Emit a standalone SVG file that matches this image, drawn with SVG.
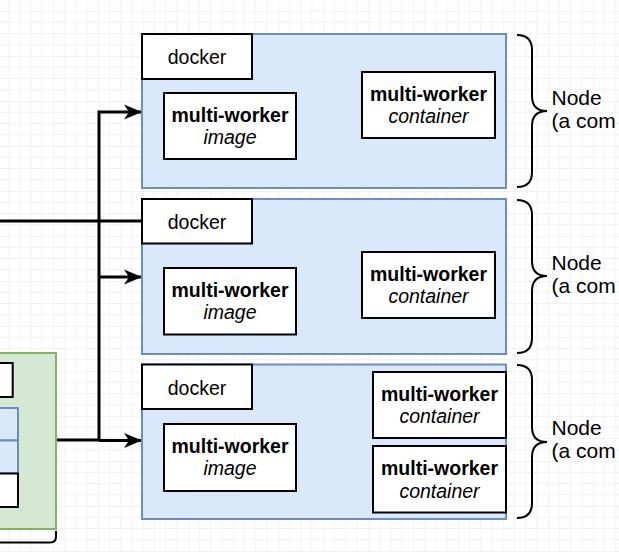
<svg xmlns="http://www.w3.org/2000/svg" width="619" height="552" viewBox="0 0 619 552">
  <defs>
    <pattern id="grid" patternUnits="userSpaceOnUse" x="8.3" y="11" width="45" height="45">
      <path d="M11.25,0 V45 M22.5,0 V45 M33.75,0 V45 M0,11.25 H45 M0,22.5 H45 M0,33.75 H45" stroke="#f1f1f1" stroke-width="1" fill="none"/>
      <path d="M0,0 V45 M0,0 H45" stroke="#e6e6e6" stroke-width="1" fill="none"/>
    </pattern>
    <marker id="arr" markerUnits="userSpaceOnUse" markerWidth="20" markerHeight="18" viewBox="-19 -9 20 18" refX="0" refY="0" orient="auto">
      <path d="M0,0 L-18,-7.5 L-13,0 L-18,7.5 Z" fill="#000"/>
    </marker>
  </defs>
  <style>
    .outer { fill: #dae8fc; stroke: #6c8ebf; stroke-width: 2; }
    .box { fill: #ffffff; stroke: #000000; stroke-width: 2; }
    .green { fill: #d5e8d4; stroke: #82b366; stroke-width: 2; }
    .bluebox { fill: #dae8fc; stroke: #6c8ebf; stroke-width: 2; }
    .t { font-family: "Liberation Sans", Arial, Helvetica, sans-serif; font-size: 19.5px; fill: #000; text-anchor: middle; }
    .b { font-weight: bold; }
    .i { font-style: italic; }
    .lbl { font-family: "Liberation Sans", Arial, Helvetica, sans-serif; font-size: 21px; fill: #000; }
    .brace { fill: none; stroke: #000; stroke-width: 2; }
    .conn { fill: none; stroke: #000; stroke-width: 3; }
  </style>
  <rect x="0" y="0" width="619" height="552" fill="#ffffff"/>
  <rect x="0" y="0" width="619" height="552" fill="url(#grid)"/>

  <!-- left green group (partially visible) -->
  <g id="left-group">
    <rect class="green" x="-10" y="353" width="66" height="176"/>
    <rect class="box" x="-10" y="363" width="22.7" height="34"/>
    <rect class="bluebox" x="-10" y="408" width="28" height="32.5"/>
    <rect class="bluebox" x="-10" y="440.5" width="28" height="33"/>
    <rect class="box" x="-10" y="473.5" width="28" height="33.5"/>
    <path class="brace" d="M-5,542.5 H50 Q56,542.5 56,536.5 V531"/>
  </g>

  <!-- connectors -->
  <g id="connectors">
    <path class="conn" d="M0,221 H142"/>
    <path class="conn" d="M57,440 H99 V112 H142" marker-end="url(#arr)"/>
    <path class="conn" d="M99,277 H142" marker-end="url(#arr)"/>
    <path class="conn" d="M99,440.5 H142" marker-end="url(#arr)"/>
  </g>

  <!-- Node 1 -->
  <g id="node1">
    <rect class="outer" x="142" y="34" width="364" height="154"/>
    <rect class="box" x="142" y="34" width="110" height="45"/>
    <text class="t" x="197" y="64">docker</text>
    <rect class="box" x="164" y="93" width="132" height="66"/>
    <text class="t b" x="230" y="121.5">multi-worker</text>
    <text class="t i" x="230" y="144">image</text>
    <rect class="box" x="362" y="72" width="133" height="66"/>
    <text class="t b" x="428.5" y="101">multi-worker</text>
    <text class="t i" x="428.5" y="122.7">container</text>
    <path class="brace" d="M517,35 Q532,35 532,50 L532,96 Q532,111 547,111 Q532,111 532,126 L532,172 Q532,187 517,187"/>
    <text class="lbl" x="551.5" y="104.5">Node</text>
    <text class="lbl" x="551.5" y="127.5">(a com</text>
  </g>

  <!-- Node 2 -->
  <g id="node2">
    <rect class="outer" x="142" y="199" width="364" height="155"/>
    <rect class="box" x="142" y="199" width="110" height="44.5"/>
    <text class="t" x="197" y="229">docker</text>
    <rect class="box" x="164" y="268" width="132" height="66.5"/>
    <text class="t b" x="230" y="296.7">multi-worker</text>
    <text class="t i" x="230" y="319">image</text>
    <rect class="box" x="362" y="252" width="133" height="66"/>
    <text class="t b" x="428.5" y="281">multi-worker</text>
    <text class="t i" x="428.5" y="303.3">container</text>
    <path class="brace" d="M517,200 Q532,200 532,215 L532,261 Q532,276 547,276 Q532,276 532,291 L532,338 Q532,353 517,353"/>
    <text class="lbl" x="551.5" y="269.5">Node</text>
    <text class="lbl" x="551.5" y="292.5">(a com</text>
  </g>

  <!-- Node 3 -->
  <g id="node3">
    <rect class="outer" x="142" y="364.5" width="364" height="154.5"/>
    <rect class="box" x="142" y="364.5" width="110" height="44.5"/>
    <text class="t" x="197" y="394.5">docker</text>
    <rect class="box" x="164" y="424" width="132" height="67"/>
    <text class="t b" x="230" y="452.7">multi-worker</text>
    <text class="t i" x="230" y="475">image</text>
    <rect class="box" x="373" y="372" width="133" height="66"/>
    <text class="t b" x="439.5" y="401">multi-worker</text>
    <text class="t i" x="439.5" y="423.3">container</text>
    <rect class="box" x="373" y="446" width="133" height="66.5"/>
    <text class="t b" x="439.5" y="475">multi-worker</text>
    <text class="t i" x="439.5" y="497.7">container</text>
    <path class="brace" d="M517,365 Q532,365 532,380 L532,427 Q532,442 547,442 Q532,442 532,457 L532,503 Q532,518 517,518"/>
    <text class="lbl" x="551.5" y="435">Node</text>
    <text class="lbl" x="551.5" y="458">(a com</text>
  </g>
</svg>
